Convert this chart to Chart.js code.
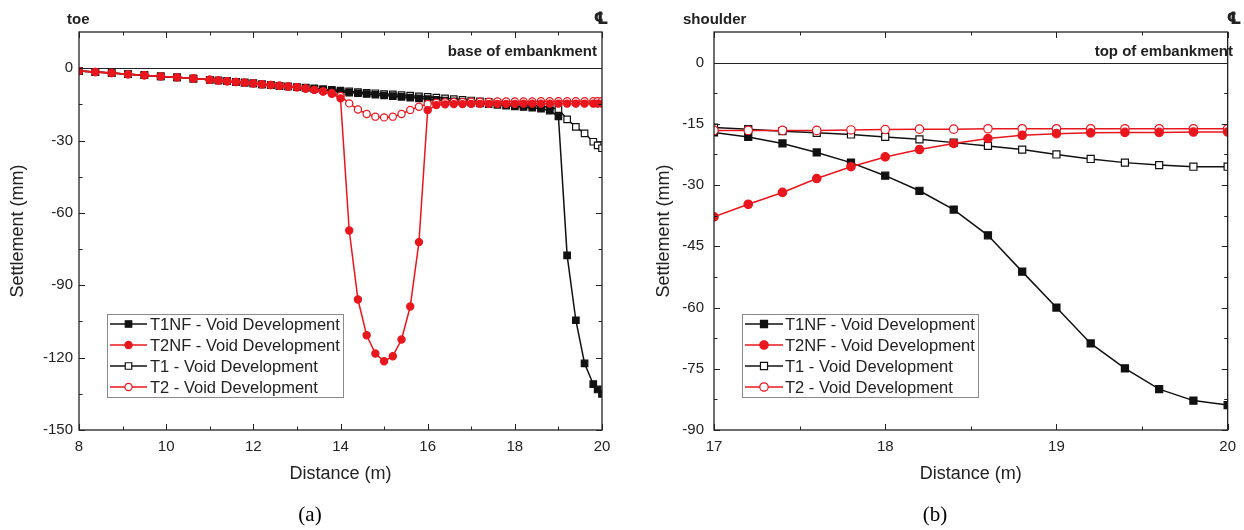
<!DOCTYPE html>
<html>
<head>
<meta charset="utf-8">
<script src="https://cdn.jsdelivr.net/npm/chart.js@4.4.1/dist/chart.umd.min.js"></script>
<style>
html, body { margin: 0; padding: 0; background: #fff; }
#wrap { position: relative; width: 1244px; height: 530px; }
canvas { position: absolute; top: 0; }
</style>
</head>
<body>
<div id="wrap">
  <canvas id="chartA" width="622" height="530" style="left:0"></canvas>
  <canvas id="chartB" width="622" height="530" style="left:622px"></canvas>
</div>
<script>
const seriesNames = [
    "T1NF - Void Development",
    "T2NF - Void Development",
    "T1 - Void Development",
    "T2 - Void Development"
];

// (a) base of embankment
const distA = [8, 8.375, 8.75, 9.125, 9.5, 9.875, 10.25, 10.625, 11,
    11.2, 11.4, 11.6, 11.8, 12, 12.2, 12.4, 12.6, 12.8, 13,
    13.2, 13.4, 13.6, 13.8, 14, 14.2, 14.4, 14.6, 14.8, 15,
    15.2, 15.4, 15.6, 15.8, 16, 16.2, 16.4, 16.6, 16.8, 17,
    17.2, 17.4, 17.6, 17.8, 18, 18.2, 18.4, 18.6, 18.8, 19,
    19.2, 19.4, 19.6, 19.8, 19.9, 20];

const t1nfA = [-1.2, -1.6, -2.0, -2.5, -2.9, -3.4, -3.8, -4.3, -4.8,
    -5.1, -5.4, -5.7, -6.0, -6.3, -6.7, -7.0, -7.3, -7.6, -7.9,
    -8.2, -8.6, -9.0, -9.4, -9.8, -10.1, -10.4, -10.7, -11.0, -11.3,
    -11.6, -11.9, -12.2, -12.5, -12.8, -13.1, -13.4, -13.7, -14.0, -14.3,
    -14.6, -14.9, -15.2, -15.5, -15.8, -16.1, -16.4, -16.8, -17.6, -20.0,
    -77.6, -104.5, -122.4, -131.0, -133.2, -135.0];

const t2nfA = [-1.2, -1.6, -2.0, -2.5, -2.9, -3.4, -3.8, -4.3, -4.8,
    -5.1, -5.4, -5.7, -6.0, -6.3, -6.7, -7.0, -7.3, -7.6, -7.9,
    -8.4, -9.0, -9.7, -10.6, -12.5, -67.3, -95.9, -110.7, -118.3, -121.5,
    -119.4, -112.5, -98.8, -72.1, -17.4, -15.3, -15.0, -14.9, -14.9, -14.8,
    -14.8, -14.8, -14.8, -14.8, -14.8, -14.7, -14.7, -14.7, -14.7, -14.7,
    -14.7, -14.7, -14.7, -14.7, -14.7, -14.7];

const t1A = [-1.2, -1.6, -2.0, -2.5, -2.9, -3.4, -3.8, -4.3, -4.8,
    -5.1, -5.4, -5.7, -6.0, -6.3, -6.7, -7.0, -7.3, -7.6, -7.9,
    -8.1, -8.4, -8.7, -9.0, -9.3, -9.6, -9.9, -10.2, -10.4, -10.7,
    -10.9, -11.2, -11.4, -11.7, -11.9, -12.2, -12.5, -12.8, -13.1, -13.4,
    -13.7, -14.0, -14.3, -14.6, -14.9, -15.2, -15.5, -15.8, -16.2, -17.0,
    -21.2, -24.3, -27.0, -30.5, -32.0, -33.2];

const t2A = [-1.2, -1.6, -2.0, -2.5, -2.9, -3.4, -3.8, -4.3, -4.8,
    -5.1, -5.4, -5.7, -6.0, -6.3, -6.7, -7.0, -7.3, -7.6, -7.9,
    -8.4, -9.0, -9.6, -10.3, -11.5, -14.6, -17.1, -19.0, -20.1, -20.4,
    -20.1, -19.0, -17.3, -16.0, -14.8, -14.3, -14.1, -14.0, -14.0, -13.9,
    -13.9, -13.9, -13.8, -13.8, -13.8, -13.8, -13.8, -13.7, -13.7, -13.7,
    -13.7, -13.7, -13.7, -13.7, -13.7, -13.7];

const xTicksA = [8, 10, 12, 14, 16, 18, 20];
const yTicksA = [-150, -120, -90, -60, -30, 0];

// (b) top of embankment
const distB = [17, 17.2, 17.4, 17.6, 17.8, 18, 18.2, 18.4, 18.6, 18.8, 19, 19.2, 19.4, 19.6, 19.8, 20];
const t1nfB = [-17.1, -18.2, -19.8, -22.0, -24.5, -27.7, -31.4, -36.0, -42.3, -51.2, -60.0, -68.8, -74.9, -80.0, -82.8, -83.9];
const t2nfB = [-37.8, -34.7, -31.8, -28.4, -25.5, -23.1, -21.3, -19.8, -18.6, -17.8, -17.4, -17.2, -17.1, -17.1, -17.0, -17.0];
const t1B = [-15.9, -16.3, -16.8, -17.2, -17.6, -18.2, -18.8, -19.6, -20.4, -21.3, -22.5, -23.6, -24.5, -25.1, -25.5, -25.5];
const t2B = [-16.6, -16.6, -16.6, -16.6, -16.5, -16.4, -16.3, -16.3, -16.2, -16.2, -16.2, -16.2, -16.2, -16.2, -16.2, -16.2];

const xTicksB = [17, 18, 19, 20];
const yTicksB = [-90, -75, -60, -45, -30, -15, 0];

const SANS = "'Liberation Sans', Arial, sans-serif";
const SERIF = "'Liberation Serif', 'Times New Roman', serif";
const BLACK = "#111111";
const RED = "#e8161d";
const AXIS = "#222222";

// marker look per series, same order as seriesNames
const looks = [
    { color: BLACK, filled: true, style: "rect", order: 3 },
    { color: RED, filled: true, style: "circle", order: 1 },
    { color: BLACK, filled: false, style: "rect", order: 4 },
    { color: RED, filled: false, style: "circle", order: 2 }
];

Chart.defaults.font.family = SANS;
Chart.defaults.color = AXIS;

function minorTicks(major) {
    const out = [];
    for (let i = 0; i < major.length - 1; i++) {
        out.push((major[i] + major[i + 1]) / 2);
    }
    return out;
}

const framePlugin = {
    id: "frame",
    beforeDatasetsDraw(chart) {
        const { ctx, chartArea: a } = chart;
        const y0 = Math.round(chart.scales.y.getPixelForValue(0)) + 0.5;
        ctx.save();
        ctx.strokeStyle = AXIS;
        ctx.lineWidth = 1.2;
        ctx.beginPath();
        ctx.moveTo(a.left, y0);
        ctx.lineTo(a.right, y0);
        ctx.stroke();
        ctx.restore();
    },
    afterDraw(chart, args, o) {
        const { ctx, chartArea: a } = chart;
        const xs = chart.scales.x;
        const ys = chart.scales.y;

        ctx.save();
        ctx.strokeStyle = AXIS;
        ctx.lineWidth = 1.3;
        ctx.strokeRect(a.left, a.top, a.right - a.left, a.bottom - a.top);

        // inward ticks on all four sides
        ctx.lineWidth = 1;
        const xTick = (v, len) => {
            const p = Math.round(xs.getPixelForValue(v)) + 0.5;
            ctx.beginPath();
            ctx.moveTo(p, a.bottom); ctx.lineTo(p, a.bottom - len);
            ctx.moveTo(p, a.top); ctx.lineTo(p, a.top + len);
            ctx.stroke();
        };
        const yTick = (v, len) => {
            const p = Math.round(ys.getPixelForValue(v)) + 0.5;
            ctx.beginPath();
            ctx.moveTo(a.left, p); ctx.lineTo(a.left + len, p);
            ctx.moveTo(a.right, p); ctx.lineTo(a.right - len, p);
            ctx.stroke();
        };
        o.xTicks.forEach(v => xTick(v, 6));
        minorTicks(o.xTicks).forEach(v => xTick(v, 3.5));
        o.yTicks.forEach(v => yTick(v, 6));
        minorTicks(o.yTicks).forEach(v => yTick(v, 3.5));

        // labels above / inside the plot
        ctx.fillStyle = AXIS;
        ctx.textBaseline = "middle";
        ctx.font = "bold 15px " + SANS;
        ctx.textAlign = "left";
        ctx.fillText(o.sideText, o.sideX, 20);
        ctx.textAlign = "right";
        ctx.fillText(o.levelText, o.levelX, 52);
        ctx.textAlign = "center";
        ctx.font = "bold 17px 'DejaVu Sans', " + SANS;
        ctx.fillText("\u2104", o.clX, 20);

        // legend
        const L = o.legend;
        ctx.strokeStyle = "#8a8a8a";
        ctx.lineWidth = 1;
        ctx.strokeRect(L.left + 0.5, L.top + 0.5, L.width, L.height);
        ctx.font = "16.5px " + SANS;
        ctx.textAlign = "left";
        chart.data.datasets.forEach((ds, i) => {
            const ry = L.top + 10 + i * 21;
            const mx = (L.lineFrom + L.lineTo) / 2;
            ctx.strokeStyle = ds.borderColor;
            ctx.lineWidth = 1.5;
            ctx.beginPath();
            ctx.moveTo(L.lineFrom, ry);
            ctx.lineTo(L.lineTo, ry);
            ctx.stroke();
            ctx.fillStyle = ds.pointBackgroundColor;
            ctx.strokeStyle = ds.pointBorderColor;
            ctx.lineWidth = ds.pointBorderWidth;
            Chart.helpers.drawPoint(ctx, {
                pointStyle: ds.pointStyle,
                radius: ds.pointRadius,
                borderWidth: ds.pointBorderWidth,
                rotation: 0
            }, mx, ry);
            ctx.fillStyle = AXIS;
            ctx.fillText(ds.label, L.textX, ry + 1);
        });

        // panel caption
        ctx.font = "21px " + SERIF;
        ctx.textAlign = "center";
        ctx.fillStyle = "#000";
        ctx.fillText(o.caption, o.captionX, 515);
        ctx.restore();
    }
};

function buildChart(id, p) {
    const datasets = p.series.map((ys, i) => {
        const look = looks[i];
        return {
            label: seriesNames[i],
            data: p.dist.map((x, k) => ({ x: x, y: ys[k] })),
            order: look.order,
            borderColor: look.color,
            borderWidth: 1.5,
            pointStyle: look.style,
            pointRadius: look.style === "rect" ? p.rectR : p.circleR,
            pointBorderWidth: 1.2,
            pointBorderColor: look.color,
            pointBackgroundColor: look.filled ? look.color : "#ffffff",
            tension: 0
        };
    });

    return new Chart(document.getElementById(id).getContext("2d"), {
        type: "line",
        data: { datasets: datasets },
        options: {
            responsive: false,
            animation: false,
            devicePixelRatio: 1,
            layout: { padding: { left: 0, right: p.padRight, top: 32, bottom: 41 } },
            plugins: {
                legend: { display: false },
                tooltip: { enabled: false },
                frame: p.frame
            },
            scales: {
                x: {
                    type: "linear",
                    min: p.xMin,
                    max: p.xMax,
                    afterBuildTicks: s => { s.ticks = p.frame.xTicks.map(v => ({ value: v })); },
                    afterFit: s => { s.height = 59; },
                    grid: { display: false, drawTicks: false },
                    border: { display: false },
                    ticks: { padding: 8, font: { size: 15 }, color: AXIS, callback: v => String(v) },
                    title: {
                        display: true,
                        text: "Distance (m)",
                        font: { size: 18 },
                        color: AXIS,
                        padding: { top: 0, bottom: 4 }
                    }
                },
                y: {
                    type: "linear",
                    min: p.yMin,
                    max: p.yMax,
                    afterBuildTicks: s => { s.ticks = p.frame.yTicks.map(v => ({ value: v })); },
                    afterFit: s => { s.width = p.yWidth; },
                    grid: { display: false, drawTicks: false },
                    border: { display: false },
                    ticks: { padding: p.yTickPad, font: { size: 15 }, color: AXIS, callback: v => String(v) },
                    title: {
                        display: true,
                        text: "Settlement (mm)",
                        font: { size: 18 },
                        color: AXIS,
                        padding: { top: p.yTitlePad, bottom: 0 }
                    }
                }
            }
        },
        plugins: [framePlugin]
    });
}

buildChart("chartA", {
    dist: distA,
    series: [t1nfA, t2nfA, t1A, t2A],
    xMin: 8, xMax: 20, yMin: -150, yMax: 15,
    padRight: 20, yWidth: 79, yTickPad: 6, yTitlePad: 7,
    rectR: 4.6, circleR: 3.6,
    frame: {
        xTicks: xTicksA, yTicks: yTicksA,
        sideText: "toe", sideX: 67,
        levelText: "base of embankment", levelX: 597,
        clX: 601,
        legend: { left: 107, top: 314, width: 236, height: 83, lineFrom: 110, lineTo: 147, textX: 150 },
        caption: "(a)", captionX: 310
    }
});

buildChart("chartB", {
    dist: distB,
    series: [t1nfB, t2nfB, t1B, t2B],
    xMin: 17, xMax: 20, yMin: -90, yMax: 7.5,
    padRight: 8, yWidth: 92, yTickPad: 10, yTitlePad: 31,
    rectR: 5, circleR: 4.2,
    frame: {
        xTicks: xTicksB, yTicks: yTicksB,
        sideText: "shoulder", sideX: 61,
        levelText: "top of embankment", levelX: 611,
        clX: 612,
        legend: { left: 120, top: 314, width: 236, height: 83, lineFrom: 123, lineTo: 161, textX: 163 },
        caption: "(b)", captionX: 313
    }
});
</script>
</body>
</html>
